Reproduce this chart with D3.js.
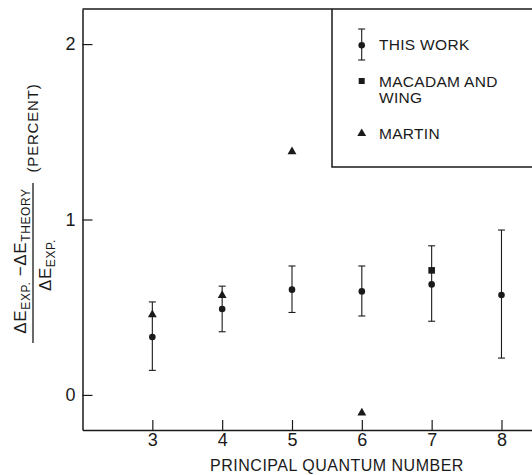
<!DOCTYPE html>
<html>
<head>
<meta charset="utf-8">
<script src="https://cdn.jsdelivr.net/npm/d3@7"></script>
<style>
  body { margin: 0; background: #fff; }
  svg { display: block; font-family: 'Liberation Sans', Arial, sans-serif; }
</style>
</head>
<body>
<svg width="532" height="475"></svg>
<script>
// principal quantum number n and the measured deviation (percent)
const workN = [3, 4, 5, 6, 7, 8];
const workVal = [0.33, 0.49, 0.60, 0.59, 0.63, 0.57];
const workLo = [0.14, 0.36, 0.47, 0.45, 0.42, 0.21];
const workHi = [0.53, 0.62, 0.735, 0.735, 0.85, 0.94];

const macadamN = [7];
const macadamVal = [0.71];

const martinN = [3, 4, 5, 6];
const martinVal = [0.46, 0.57, 1.39, -0.10];

const xTicks = [3, 4, 5, 6, 7, 8];
const yTicks = [0, 1, 2];
const legendLabels = [['THIS WORK'], ['MACADAM AND', 'WING'], ['MARTIN']];

const ink = '#1a1a1a';
const svg = d3.select('svg');

const x = d3.scaleLinear().domain([2, 8.5]).range([82.5, 536.4]);
const y = d3.scaleLinear().domain([-0.2, 2.2]).range([430, 9]);

// frame top line
svg.append('line')
    .attr('x1', x(2)).attr('x2', 532)
    .attr('y1', y(2.2)).attr('y2', y(2.2))
    .attr('stroke', ink).attr('stroke-width', 1.5);

const xAxis = svg.append('g')
    .attr('transform', `translate(0,${y(-0.2)})`)
    .call(d3.axisBottom(x).tickValues(xTicks).tickSize(-10).tickSizeOuter(0).tickPadding(3).tickFormat(d3.format('d')));

const yAxis = svg.append('g')
    .attr('transform', `translate(${x(2)},0)`)
    .call(d3.axisLeft(y).tickValues(yTicks).tickSize(-10).tickSizeOuter(0).tickPadding(7).tickFormat(d3.format('d')));

[xAxis, yAxis].forEach((g) => {
    g.select('.domain').attr('stroke', ink).attr('stroke-width', 1.5);
    g.selectAll('.tick line').attr('stroke', ink).attr('stroke-width', 1.2);
    g.selectAll('.tick text')
        .attr('fill', ink)
        .style('font-size', '18px')
        .style('font-family', "'Liberation Sans', Arial, sans-serif");
});

// x label
svg.append('text')
    .attr('x', 337).attr('y', 470.5)
    .attr('text-anchor', 'middle')
    .attr('fill', ink)
    .style('font-size', '16px')
    .style('letter-spacing', '0.5px')
    .text('PRINCIPAL QUANTUM NUMBER');

// y label (fraction)
const yl = svg.append('g').attr('transform', 'translate(0,263) rotate(-90)').attr('fill', ink);
const num = yl.append('text').attr('x', 2).attr('y', 26).attr('text-anchor', 'middle')
    .style('font-size', '17px').style('letter-spacing', '0.6px');
num.append('tspan').text('ΔE');
num.append('tspan').attr('dy', 4).style('font-size', '12px').text('EXP.');
num.append('tspan').attr('dy', -4).text(' −ΔE');
num.append('tspan').attr('dy', 4).style('font-size', '12px').text('THEORY');

yl.append('line')
    .attr('x1', -80).attr('x2', 80).attr('y1', 33).attr('y2', 33)
    .attr('stroke', ink).attr('stroke-width', 1.3);

const den = yl.append('text').attr('x', -2).attr('y', 51).attr('text-anchor', 'middle')
    .style('font-size', '17px').style('letter-spacing', '0.6px');
den.append('tspan').text('ΔE');
den.append('tspan').attr('dy', 4).style('font-size', '12px').text('EXP.');

yl.append('text').attr('x', 135).attr('y', 38).attr('text-anchor', 'middle')
    .style('font-size', '15px').style('letter-spacing', '0.8px')
    .text('(PERCENT)');

// marker helpers
const tri = d3.symbol().type(d3.symbolTriangle).size(34);

// error bars
const work = workN.map((n, i) => ({ n, v: workVal[i], lo: workLo[i], hi: workHi[i] }));
const eb = svg.append('g').attr('stroke', ink).attr('stroke-width', 1.1);
eb.selectAll('line.v').data(work).join('line')
    .attr('x1', (d) => x(d.n)).attr('x2', (d) => x(d.n))
    .attr('y1', (d) => y(d.lo)).attr('y2', (d) => y(d.hi));
eb.selectAll('line.t').data(work).join('line')
    .attr('x1', (d) => x(d.n) - 3.5).attr('x2', (d) => x(d.n) + 3.5)
    .attr('y1', (d) => y(d.hi)).attr('y2', (d) => y(d.hi));
eb.selectAll('line.b').data(work).join('line')
    .attr('x1', (d) => x(d.n) - 3.5).attr('x2', (d) => x(d.n) + 3.5)
    .attr('y1', (d) => y(d.lo)).attr('y2', (d) => y(d.lo));

svg.append('g').selectAll('circle').data(work).join('circle')
    .attr('cx', (d) => x(d.n)).attr('cy', (d) => y(d.v)).attr('r', 3.3)
    .attr('fill', ink);

svg.append('g').selectAll('rect').data(macadamN).join('rect')
    .attr('x', (d) => x(d) - 3.3).attr('y', (d, i) => y(macadamVal[i]) - 3.3)
    .attr('width', 6.6).attr('height', 6.6).attr('fill', ink);

svg.append('g').selectAll('path').data(martinN).join('path')
    .attr('d', tri)
    .attr('transform', (d, i) => `translate(${x(d)},${y(martinVal[i]) + 0.5})`)
    .attr('fill', ink);

// legend box
const lg = svg.append('g');
lg.append('path')
    .attr('d', 'M332,9 V167 H532')
    .attr('fill', 'none').attr('stroke', ink).attr('stroke-width', 1.5);

const lx = 361.7;
lg.append('line').attr('x1', lx).attr('x2', lx).attr('y1', 29).attr('y2', 60).attr('stroke', ink).attr('stroke-width', 1.1);
lg.append('line').attr('x1', lx - 3.5).attr('x2', lx + 3.5).attr('y1', 29).attr('y2', 29).attr('stroke', ink).attr('stroke-width', 1.1);
lg.append('line').attr('x1', lx - 3.5).attr('x2', lx + 3.5).attr('y1', 60).attr('y2', 60).attr('stroke', ink).attr('stroke-width', 1.1);
lg.append('circle').attr('cx', lx).attr('cy', 45.3).attr('r', 3.3).attr('fill', ink);
lg.append('rect').attr('x', lx - 3).attr('y', 78).attr('width', 6).attr('height', 6).attr('fill', ink);
lg.append('path').attr('d', tri).attr('transform', `translate(${lx},133.5)`).attr('fill', ink);

const baselines = [[50], [86.7, 103.3], [139]];
legendLabels.forEach((lines, i) => {
    lines.forEach((t, j) => {
        lg.append('text')
            .attr('x', 379).attr('y', baselines[i][j])
            .attr('fill', ink)
            .style('font-size', '15.5px')
            .style('letter-spacing', '0.3px')
            .text(t);
    });
});
</script>
</body>
</html>
